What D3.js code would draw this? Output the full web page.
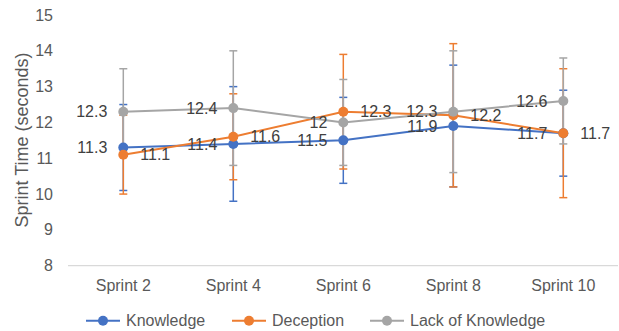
<!DOCTYPE html>
<html><head><meta charset="utf-8">
<script src="https://cdn.jsdelivr.net/npm/d3@7"></script>
<style>body{margin:0;background:#fff;} svg{display:block;font-family:"Liberation Sans",Arial,sans-serif;}</style>
</head><body><svg id="c" width="619" height="331"></svg>
<script>
const categories = ["Sprint 2","Sprint 4","Sprint 6","Sprint 8","Sprint 10"];
const knowledge = [11.3, 11.4, 11.5, 11.9, 11.7];
const deception = [11.1, 11.6, 12.3, 12.2, 11.7];
const lackOfKnowledge = [12.3, 12.4, 12.0, 12.3, 12.6];
const knowledgeErr = [1.2, 1.6, 1.2, 1.7, 1.2];
const deceptionErr = [1.1, 1.2, 1.6, 2.0, 1.8];
const lackErr = [1.2, 1.6, 1.2, 1.7, 1.2];
const yTicks = [8, 9, 10, 11, 12, 13, 14, 15];

const series = [
  {name:"Knowledge", values:knowledge, err:knowledgeErr, color:"#4472C4", labelSide:"left"},
  {name:"Deception", values:deception, err:deceptionErr, color:"#ED7D31", labelSide:"right"},
  {name:"Lack of Knowledge", values:lackOfKnowledge, err:lackErr, color:"#A5A5A5", labelSide:"left"}
];

const svg = d3.select("#c");
const x = d3.scalePoint().domain(categories).range([123.3, 563.3]);
const y = d3.scaleLinear().domain([8, 15]).range([265.7, 15]);

// x axis baseline
svg.append("line").attr("x1", 68).attr("x2", 618).attr("y1", y(8)).attr("y2", y(8))
  .attr("stroke", "#D9D9D9").attr("stroke-width", 1.3);

// y tick labels
svg.append("g").selectAll("text").data(yTicks).join("text")
  .attr("x", 53).attr("y", d => y(d)).attr("dy", "0.35em")
  .attr("text-anchor", "end").attr("font-size", 16).attr("fill", "#595959").text(d => d);

// x tick labels
svg.append("g").selectAll("text").data(categories).join("text")
  .attr("x", d => x(d)).attr("y", 285).attr("dy", "0.35em")
  .attr("text-anchor", "middle").attr("font-size", 16).attr("fill", "#595959").text(d => d);

// y title
svg.append("text").attr("transform", `translate(22,${140}) rotate(-90)`).attr("dy","0.35em")
  .attr("text-anchor", "middle").attr("font-size", 18).attr("fill", "#595959").text("Sprint Time (seconds)");

// error bars
series.forEach(s => {
  const g = svg.append("g").attr("stroke", s.color).attr("stroke-width", 1.5);
  s.values.forEach((v, i) => {
    const cx = x(categories[i]);
    const hi = y(v + s.err[i]), lo = y(v - s.err[i]);
    g.append("line").attr("x1", cx).attr("x2", cx).attr("y1", hi).attr("y2", lo);
    g.append("line").attr("x1", cx - 4).attr("x2", cx + 4).attr("y1", hi).attr("y2", hi);
    g.append("line").attr("x1", cx - 4).attr("x2", cx + 4).attr("y1", lo).attr("y2", lo);
  });
});

// lines
const line = d3.line().x((d, i) => x(categories[i])).y(d => y(d));
series.forEach(s => {
  svg.append("path").datum(s.values).attr("d", line).attr("fill", "none")
    .attr("stroke", s.color).attr("stroke-width", 2);
});
// markers
series.forEach(s => {
  svg.append("g").selectAll("circle").data(s.values).join("circle")
    .attr("cx", (d, i) => x(categories[i])).attr("cy", d => y(d)).attr("r", 5)
    .attr("fill", s.color);
});
// data labels
series.forEach(s => {
  svg.append("g").selectAll("text").data(s.values).join("text")
    .attr("x", (d, i) => x(categories[i]) + (s.labelSide === "left" ? -16 : 17))
    .attr("y", d => y(d)).attr("dy", "0.35em")
    .attr("text-anchor", s.labelSide === "left" ? "end" : "start")
    .attr("font-size", 16).attr("fill", "#404040").text(d => d3.format("~g")(d));
});

// legend
const legendX = [86, 232, 370];
series.forEach((s, i) => {
  const g = svg.append("g").attr("transform", `translate(${legendX[i]},320.7)`);
  g.append("line").attr("x1", 0).attr("x2", 34).attr("stroke", s.color).attr("stroke-width", 2);
  g.append("circle").attr("cx", 17).attr("r", 5).attr("fill", s.color);
  g.append("text").attr("x", 40).attr("dy", "0.35em").attr("font-size", 16).attr("fill", "#595959").text(s.name);
});
</script></body></html>
